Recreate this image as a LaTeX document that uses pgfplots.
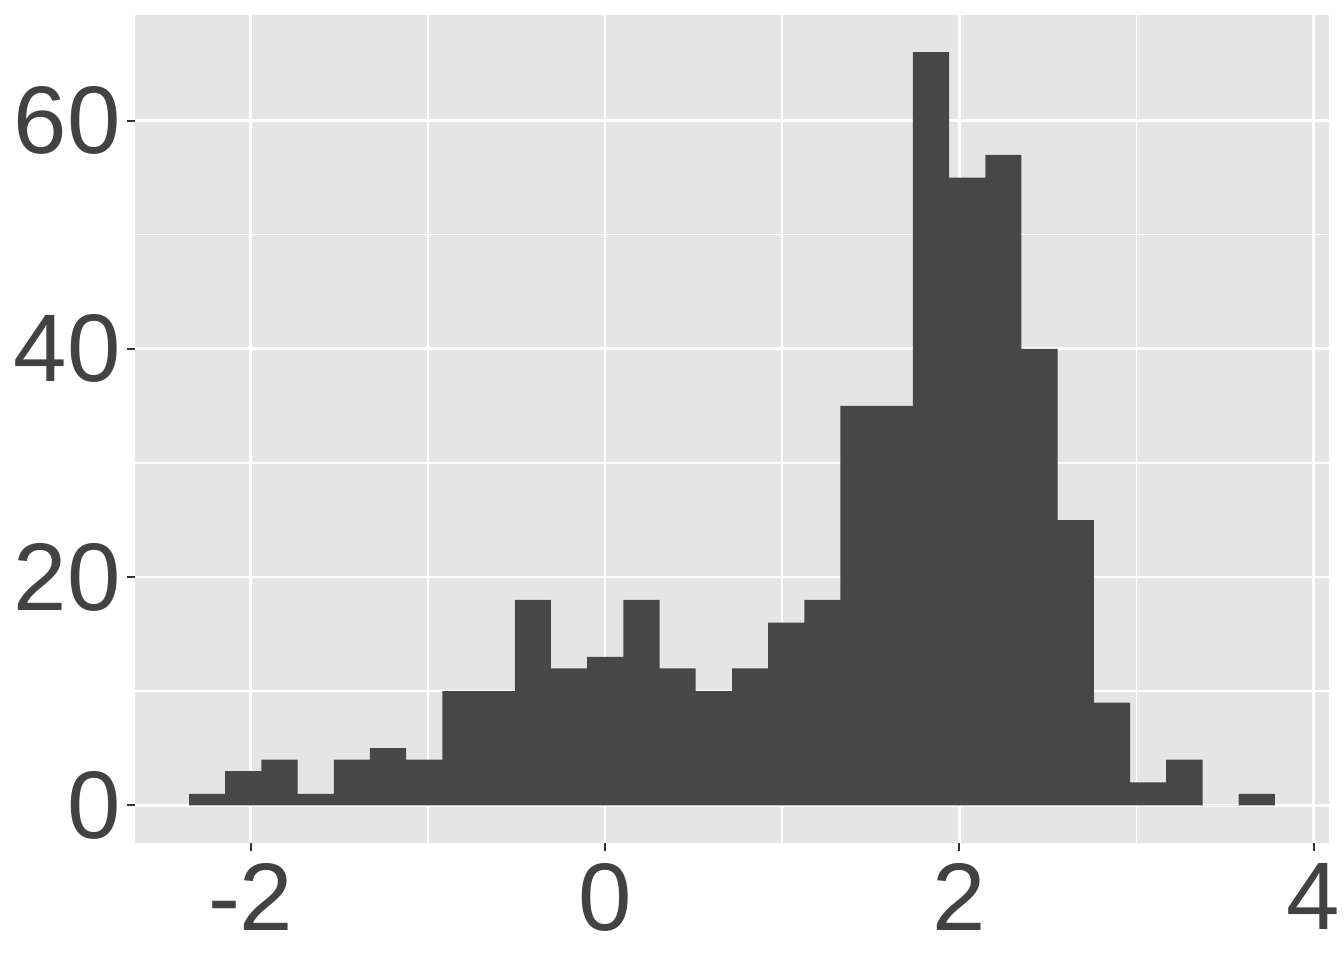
\documentclass[border=0pt]{standalone}
\usepackage{pgfplots}
\pgfplotsset{compat=1.18}
\usepackage{fontspec}
\setmainfont{Liberation Sans}
\definecolor{panel}{HTML}{E5E5E5}
\definecolor{barc}{HTML}{474747}
\definecolor{txt}{HTML}{424242}
\definecolor{tickc}{HTML}{333333}
\pgfplotstableread{
x y
-2.348 1
-2.144 3
-1.939 4
-1.735 1
-1.531 4
-1.327 5
-1.122 4
-0.918 10
-0.714 10
-0.509 18
-0.305 12
-0.101 13
0.104 18
0.308 12
0.512 10
0.717 12
0.921 16
1.125 18
1.329 35
1.534 35
1.738 66
1.942 55
2.147 57
2.351 40
2.555 25
2.760 9
2.964 2
3.168 4
3.373 0
3.577 1
3.781 1
}\histdata
\begin{document}
\begin{tikzpicture}
\useasboundingbox (0,0) rectangle (672pt,480pt);
\begin{axis}[
  at={(67.5pt,58.65pt)}, anchor=south west,
  scale only axis, width=597pt, height=413.85pt,
  xmin=-2.653, xmax=4.087, ymin=-3.28, ymax=69.26,
  axis background/.style={fill=panel},
  axis line style={draw=none},
  xtick={-2,0,2,4}, ytick={0,20,40,60},
  xticklabels={-2,0,2,4},
  yticklabels={0,20,40,60},
  minor xtick={-1,1,3}, minor ytick={10,30,50},
  xtick pos=bottom, ytick pos=left,
  grid=both,
  major grid style={white, line width=1.4pt},
  minor grid style={white, line width=0.7pt},
  tick align=outside,
  major tick length=4pt, minor tick length=0pt,
  tick style={tickc, line width=1pt},
  ticklabel style={font=\fontsize{48}{56}\selectfont, text=txt},
  yticklabel style={anchor=east, inner sep=0pt, xshift=-3pt},
  xticklabel style={anchor=north, inner sep=0pt, yshift=-6pt},
  clip=true,
]
\addplot[ybar interval, fill=barc, draw=none] table[x=x,y=y] {\histdata};
\end{axis}
\end{tikzpicture}
\end{document}
